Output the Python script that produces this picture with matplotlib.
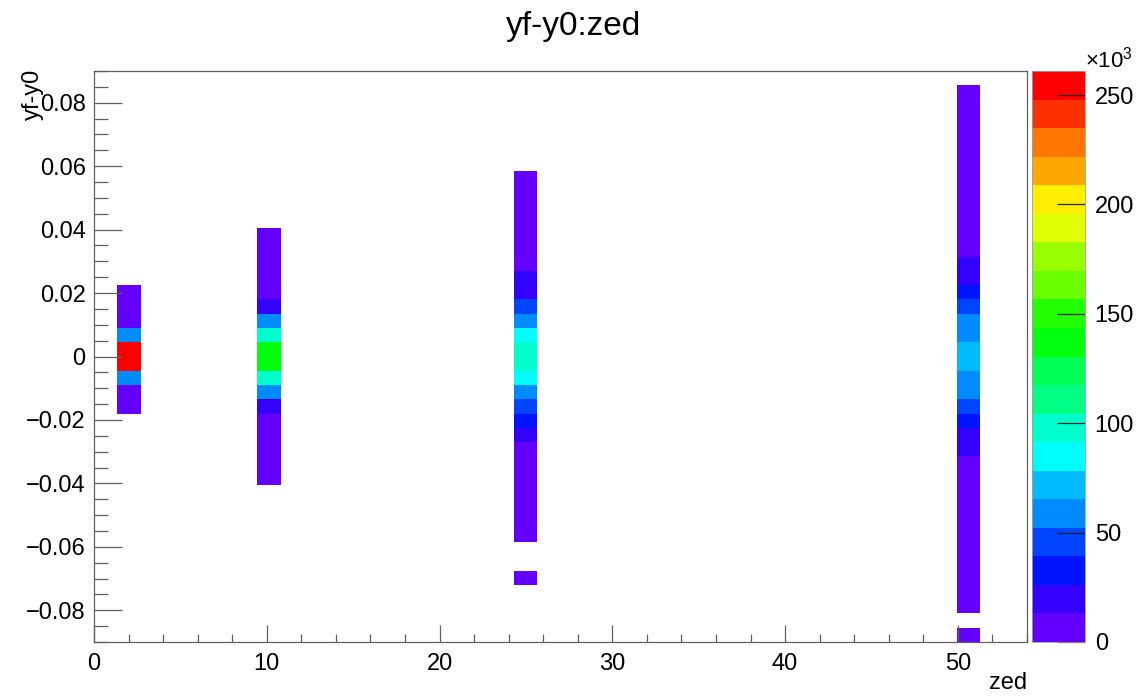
import colorsys
import numpy as np
import matplotlib
matplotlib.use('Agg')
import matplotlib.pyplot as plt
from matplotlib.colors import ListedColormap, BoundaryNorm
from matplotlib.ticker import FuncFormatter, MultipleLocator

plt.rcParams['font.family'] = ['Liberation Sans', 'DejaVu Sans']
plt.rcParams['mathtext.fontset'] = 'custom'
plt.rcParams['mathtext.rm'] = 'Liberation Sans'

# histogram binning (TTree::Draw default 40 x 40 bins)
n_xbins, x_lo, x_hi = 40, 0.0, 54.0
n_ybins, y_lo, y_hi = 40, -0.09, 0.09

zed_values = [2, 10, 25, 50]

# entries per yf-y0 bin, lowest bin first (40 bins for each zed)
counts_zed2 = [0] * 16 + [4000, 9000, 60000, 255000, 261000, 58000, 9000, 5000, 3000] + [0] * 15
counts_zed10 = [0] * 11 + [1500, 2500, 4000, 6500, 10500, 20000, 58000, 97000, 138000,
                           137000, 98000, 57000, 19000, 10000, 6000, 4000, 2500, 1200] + [0] * 11
counts_zed25 = [0] * 4 + [300, 0, 0] + [400, 900, 1600, 2800, 4500, 7000, 11000, 19000, 32000,
                                        46000, 60000, 85000, 98000, 99000, 86000, 59000, 45000,
                                        25000, 16000, 11000, 7000, 4500, 2800, 1600, 900, 400] + [0] * 7
counts_zed50 = [200, 0] + [300, 500, 800, 1200, 1800, 2600, 3700, 5200, 7000, 9200, 12000, 16000,
                           22000, 30000, 42000, 55000, 63000, 72000, 73000, 63000, 55000, 43000,
                           31000, 23000, 16000, 12000, 9000, 7000, 5200, 3700, 2600, 1800, 1200,
                           800, 500, 300, 200] + [0]
all_counts = [counts_zed2, counts_zed10, counts_zed25, counts_zed50]

palette_ticks = [0, 50000, 100000, 150000, 200000, 250000]
palette_labels = ['0', '50', '100', '150', '200', '250']


def root_pretty_color(level, n_levels=20, n_colors=50):
    # colour of one contour level in ROOT's violet->red palette
    i = int((level + 0.99) * n_colors / n_levels)
    hue = 280.0 - (i + 1) * 280.0 / n_colors
    return colorsys.hls_to_rgb(hue / 360.0, 0.5, 1.0)


x_edges = np.linspace(x_lo, x_hi, n_xbins + 1)
y_edges = np.linspace(y_lo, y_hi, n_ybins + 1)
hist = np.zeros((n_xbins, n_ybins))
for zed, counts in zip(zed_values, all_counts):
    ix = np.searchsorted(x_edges, zed, side='right') - 1
    hist[ix] = counts

n_levels = 20
cmap = ListedColormap([root_pretty_color(k) for k in range(n_levels)])
norm = BoundaryNorm(np.linspace(0, hist.max(), n_levels + 1), n_levels)

W, H = 1147, 696
fig = plt.figure(figsize=(W / 100, H / 100), dpi=100)
ax = fig.add_axes([94 / W, 54 / H, 933 / W, 571 / H])

mesh = ax.pcolormesh(x_edges, y_edges, np.ma.masked_equal(hist.T, 0),
                     cmap=cmap, norm=norm, linewidth=0, antialiased=False)

ax.set_xlim(x_lo, x_hi)
ax.set_ylim(y_lo, y_hi)
ax.xaxis.set_major_locator(MultipleLocator(10))
ax.xaxis.set_minor_locator(MultipleLocator(2))
ax.yaxis.set_major_locator(MultipleLocator(0.02))
ax.yaxis.set_minor_locator(MultipleLocator(0.005))


def ylab(v, pos):
    if abs(v) < 1e-9:
        return '0'
    return ('%.2f' % v).replace('-', '\u2212')


ax.yaxis.set_major_formatter(FuncFormatter(ylab))

# tick lengths are in points (0.72 pt per pixel at 100 dpi)
frame_col = '#606060'
for s in ax.spines.values():
    s.set_color(frame_col)
    s.set_linewidth(0.9)
ax.tick_params(which='both', direction='in', top=False, right=False, color=frame_col, width=0.9)
ax.tick_params(axis='x', which='major', length=12.2, labelsize=17, pad=8)
ax.tick_params(axis='x', which='minor', length=6.1)
ax.tick_params(axis='y', which='major', length=20, labelsize=17, pad=6)
ax.tick_params(axis='y', which='minor', length=10)

# palette (colour axis)
cax = fig.add_axes([1032 / W, 54 / H, 53 / W, 571 / H])
cb = fig.colorbar(mesh, cax=cax, ticks=palette_ticks)
cb.ax.set_yticklabels(palette_labels)
cb.outline.set_edgecolor('#a0a0a0')
cb.outline.set_linewidth(0.6)
cb.ax.tick_params(direction='in', length=20, width=0.9, color='#222222', labelsize=17, pad=7)
cb.ax.minorticks_off()
fig.text(1085 / W, 1 - 60 / H, r'$\times$10$^{3}$', fontsize=16, ha='left', va='center')

fig.text(0.5, 1 - 26 / H, 'yf-y0:zed', fontsize=24, ha='center', va='center')
fig.text(33 / W, 1 - 69 / H, 'yf-y0', fontsize=17, rotation=90, ha='center', va='top')
fig.text(1027 / W, 1 - 683 / H, 'zed', fontsize=17, ha='right', va='center')

fig.savefig('out.png', dpi=100)
